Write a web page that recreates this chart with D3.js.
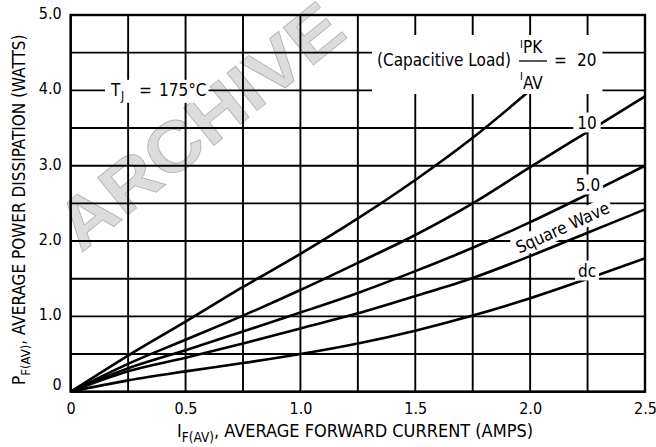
<!DOCTYPE html>
<html>
<head>
<meta charset="utf-8">
<script src="https://cdn.jsdelivr.net/npm/d3@7"></script>
<style>
  html, body { margin: 0; padding: 0; background: #fff; }
  svg { display: block; }
  text { font-family: "Liberation Sans Narrow", "Arial Narrow", "DejaVu Sans Condensed", sans-serif; fill: #000; }
</style>
</head>
<body>
<svg id="chart" width="656" height="447"></svg>
<script>
// ---- Data ----
const currentX = [0, 0.25, 0.5, 0.75, 1.0, 1.25, 1.5, 1.75, 2.0, 2.25, 2.5];
const capacitive20 = [0, 0.48, 0.93, 1.39, 1.83, 2.30, 2.81, 3.37, 4.00];
const capacitive10 = [0, 0.37, 0.69, 1.01, 1.35, 1.71, 2.08, 2.50, 2.98, 3.45, 3.92];
const capacitive5 = [0, 0.31, 0.55, 0.80, 1.05, 1.31, 1.60, 1.91, 2.25, 2.62, 3.00];
const squareWave = [0, 0.27, 0.45, 0.64, 0.84, 1.04, 1.27, 1.51, 1.80, 2.11, 2.42];
const dcCurve = [0, 0.15, 0.27, 0.38, 0.50, 0.64, 0.81, 1.01, 1.24, 1.50, 1.77];

const xTickLabels = ["0", "0.5", "1.0", "1.5", "2.0", "2.5"];
const yTickLabels = ["0", "1.0", "2.0", "3.0", "4.0", "5.0"];
const xGridValues = [0, 0.25, 0.5, 0.75, 1.0, 1.25, 1.5, 1.75, 2.0, 2.25, 2.5];
const yGridValues = [0, 0.5, 1.0, 1.5, 2.0, 2.5, 3.0, 3.5, 4.0, 4.5, 5.0];

(function () {
// ---- Layout ----
const svg = d3.select("#chart");
const pL = 70.7, pR = 645, pT = 15, pB = 391.7;
const x = d3.scaleLinear().domain([0, 2.5]).range([pL, pR]);
const y = d3.scaleLinear().domain([0, 5]).range([pB, pT]);

// watermark
svg.append("text")
  .attr("transform", `translate(200,126) rotate(-39)`)
  .attr("text-anchor", "middle")
  .attr("dominant-baseline", "central")
  .style("font-family", "'Liberation Sans', Arial, sans-serif")
  .style("font-weight", "bold")
  .style("font-size", "70px")
  .attr("textLength", 345)
  .attr("lengthAdjust", "spacingAndGlyphs")
  .style("fill", "#dcdcdc")
  .style("stroke", "#b0b0b0")
  .style("stroke-width", 0.8)
  .text("ARCHIVE");

// grid
const grid = svg.append("g");
grid.selectAll("line.v").data(xGridValues).join("line")
  .attr("class", "v")
  .attr("x1", d => x(d)).attr("x2", d => x(d))
  .attr("y1", pT).attr("y2", pB)
  .attr("stroke", "#000").attr("stroke-width", 1.9);
grid.selectAll("line.h").data(yGridValues).join("line")
  .attr("class", "h")
  .attr("x1", pL).attr("x2", pR)
  .attr("y1", d => y(d)).attr("y2", d => y(d))
  .attr("stroke", "#000").attr("stroke-width", 1.9);
svg.append("rect").attr("x", pL).attr("y", pT)
  .attr("width", pR - pL).attr("height", pB - pT)
  .attr("fill", "none").attr("stroke", "#000").attr("stroke-width", 2.4);

// axes tick labels using d3 axes
const xAxis = d3.axisBottom(x)
  .tickValues(xTickLabels.map(Number))
  .tickFormat((d, i) => xTickLabels[i])
  .tickSize(0).tickPadding(8);
const gx = svg.append("g").attr("transform", `translate(0,${pB})`).call(xAxis);
gx.select(".domain").remove();
gx.selectAll("text").style("font-size", "16px").attr("dy", "0.71em").attr("y", 10.5).style("fill", "#000");

const yAxis = d3.axisLeft(y)
  .tickValues(yTickLabels.map(Number))
  .tickFormat((d, i) => yTickLabels[i])
  .tickSize(0).tickPadding(9);
const gy = svg.append("g").attr("transform", `translate(${pL},0)`).call(yAxis);
gy.select(".domain").remove();
gy.selectAll("text").style("font-size", "16px").style("fill", "#000")
  .attr("dy", d => d === 0 ? "-0.12em" : "0.22em");

// curves
const line = d3.line().x(d => x(d[0])).y(d => y(d[1])).curve(d3.curveMonotoneX);
const series = [capacitive20, capacitive10, capacitive5, squareWave, dcCurve];
svg.append("g").selectAll("path").data(series).join("path")
  .attr("d", s => line(s.map((v, i) => [currentX[i], v])))
  .attr("fill", "none").attr("stroke", "#000").attr("stroke-width", 2.6);

// helper: label with white backing
function boxed(g, pad) {
  const b = g.node().getBBox();
  g.insert("rect", ":first-child")
    .attr("x", b.x - pad[0]).attr("y", b.y - pad[1])
    .attr("width", b.width + pad[0] + pad[2]).attr("height", b.height + pad[1] + pad[3])
    .attr("fill", "#fff");
}

// T_J label
{
  const g = svg.append("g");
  const base = y(4.0) + 5.5;
  g.append("text").attr("x", 111).attr("y", base).style("font-size", "17px").text("T");
  g.append("text").attr("x", 121).attr("y", base + 4).style("font-size", "12px").text("J");
  g.append("text").attr("x", 139).attr("y", base).style("font-size", "17px").text("=");
  g.append("text").attr("x", 159).attr("y", base).style("font-size", "17px").text("175°C");
  boxed(g, [5, 0, 2, 0]);
}

// Capacitive load label
{
  const g = svg.append("g");
  g.append("text").attr("x", 377).attr("y", 66).style("font-size", "17px").text("(Capacitive Load)");
  const num = g.append("text").attr("x", 520).attr("y", 53).style("font-size", "17px");
  num.append("tspan").attr("dy", -5).style("font-size", "11px").text("I");
  num.append("tspan").attr("dy", 5).text("PK");
  const den = g.append("text").attr("x", 520).attr("y", 89).style("font-size", "17px");
  den.append("tspan").attr("dy", -9).style("font-size", "11px").text("I");
  den.append("tspan").attr("dy", 9).text("AV");
  g.append("line").attr("x1", 519).attr("x2", 547).attr("y1", 61).attr("y2", 61)
    .attr("stroke", "#000").attr("stroke-width", 1.3);
  g.append("text").attr("x", 554).attr("y", 66).style("font-size", "17px").text("=");
  g.append("text").attr("x", 577).attr("y", 66).style("font-size", "17px").text("20");
  boxed(g, [5, 2, 6, 1]);
}

// 10, 5.0, dc labels
function simpleLabel(txt, cx, baseY, pad) {
  const g = svg.append("g");
  g.append("text").attr("x", cx).attr("y", baseY).attr("text-anchor", "middle")
    .style("font-size", "17px").text(txt);
  boxed(g, pad);
}
simpleLabel("10", 587, 128.5, [4, 0, 4, 0]);
simpleLabel("5.0", 588, 190.5, [3, 0, 3, 0]);
simpleLabel("dc", 587, 276.5, [3, 0, 3, 0]);

// Square Wave label
{
  const g = svg.append("g").attr("transform", "translate(565,233) rotate(-24.5)");
  g.append("text").attr("x", 0).attr("y", 0).attr("text-anchor", "middle")
    .style("font-size", "17px").text("Square Wave");
  boxed(g, [3, 0, 3, 0]);
}

// axis titles
{
  const t = svg.append("text").attr("x", 177).attr("y", 436.5).style("font-size", "18px");
  t.append("tspan").text("I");
  t.append("tspan").attr("dy", 5).style("font-size", "13.5px").text("F(AV)");
  t.append("tspan").attr("dy", -5).text(", AVERAGE FORWARD CURRENT (AMPS)");
}
{
  const t = svg.append("text").attr("transform", "translate(25,385) rotate(-90)").style("font-size", "17px");
  t.append("tspan").text("P");
  t.append("tspan").attr("dy", 5).style("font-size", "13px").text("F(AV)");
  t.append("tspan").attr("dy", -5).text(", AVERAGE POWER DISSIPATION (WATTS)");
}
})();
</script>
</body>
</html>
